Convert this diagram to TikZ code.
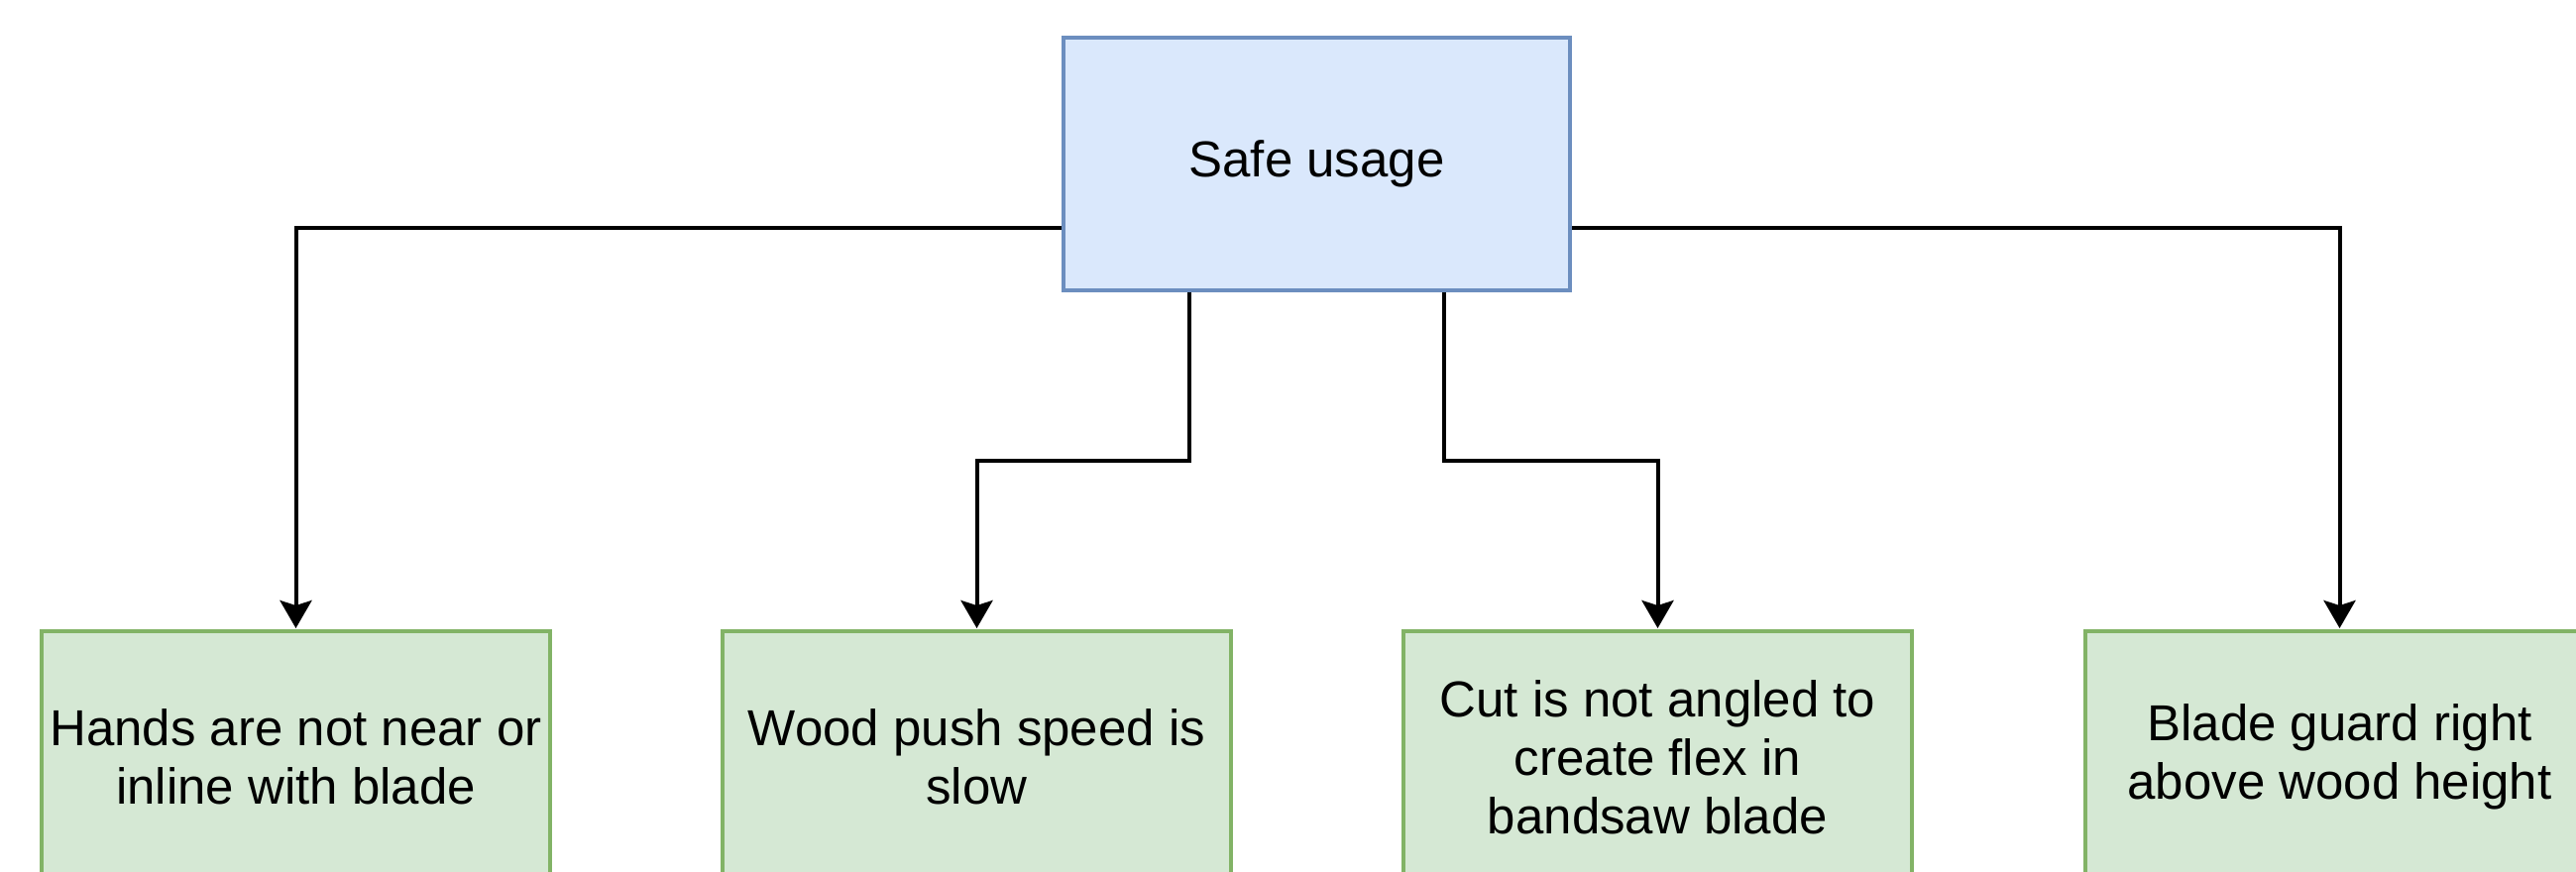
\documentclass[tikz,border=0pt]{standalone}
\usepackage{fontspec}
\setmainfont{Liberation Sans}
\usetikzlibrary{arrows.meta,calc}
\definecolor{bluefill}{HTML}{DAE8FC}
\definecolor{bluedraw}{HTML}{6C8EBF}
\definecolor{greenfill}{HTML}{D5E8D4}
\definecolor{greendraw}{HTML}{82B366}
\tikzset{
  topbox/.style={draw=bluedraw, fill=bluefill, line width=4pt, minimum width=511pt, minimum height=255pt, inner sep=0pt, align=center, font=\fontsize{51pt}{60pt}\selectfont},
  leafbox/.style={draw=greendraw, fill=greenfill, line width=4pt, minimum width=513pt, minimum height=254pt, inner sep=0pt, align=center, font=\fontsize{51pt}{59pt}\selectfont},
  conn/.style={draw=black, line width=4pt, -{Stealth[length=28pt,width=32pt,inset=5pt]}, shorten >=1pt}
}
\begin{document}
\begin{tikzpicture}[x=1pt,y=-1pt]
\useasboundingbox (0,0) rectangle (2599,880);
\clip (0,0) rectangle (2599,880);
\fill[white] (0,0) rectangle (2599,880);
\node[topbox] (top) at (1328.5,165.5) {Safe usage};
\node[leafbox] (b1) at (298.5,764) {Hands are not near or\\inline with blade};
\node[leafbox] (b2) at (985.5,764) {Wood push speed is\\slow};
\node[leafbox] (b3) at (1672.5,764) {Cut is not angled to\\create flex in\\bandsaw blade};
\node[leafbox] (b4) at (2360.5,764) {Blade guard right\\above wood height};
\coordinate (yside) at (0,229.5);
\coordinate (ymid) at (0,464.5);
\coordinate (s1) at ($(top.south west)!0.25!(top.south east)$);
\coordinate (s2) at ($(top.south west)!0.75!(top.south east)$);
\draw[conn] (top.west |- yside) -| (b1.north);
\draw[conn] (top.east |- yside) -| (b4.north);
\draw[conn] (s1) -- (s1 |- ymid) -| (b2.north);
\draw[conn] (s2) -- (s2 |- ymid) -| (b3.north);
\end{tikzpicture}
\end{document}
